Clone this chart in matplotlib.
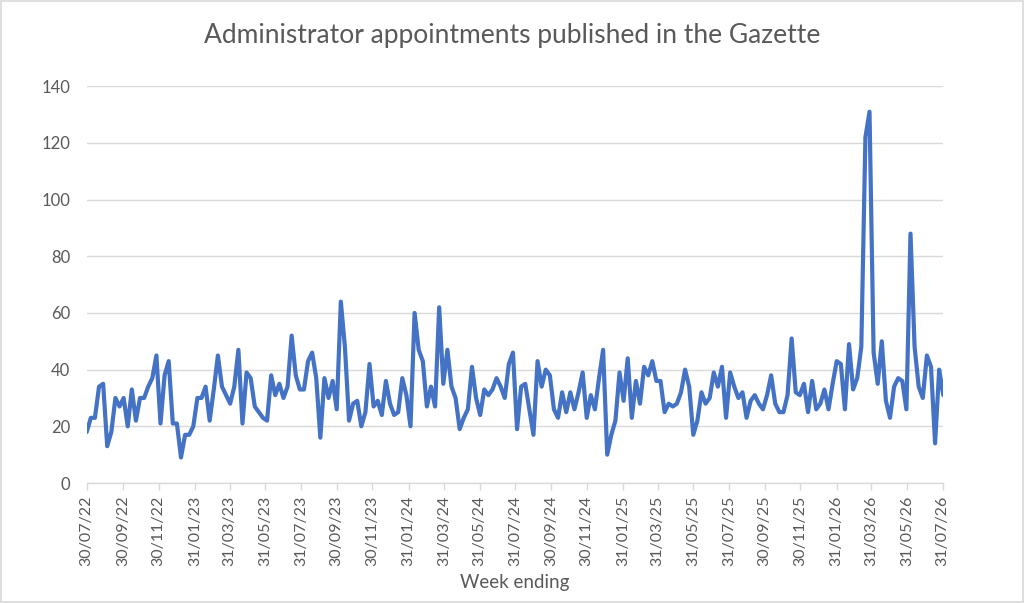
import matplotlib
matplotlib.use('Agg')
import matplotlib.pyplot as plt
import pandas as pd
from matplotlib.patches import Rectangle

# Weekly counts
counts_2022_23 = [
    18, 23, 23, 34, 35, 13, 18, 30, 27, 30,
    20, 33, 22, 30, 30, 34, 37, 45, 21, 38,
    43, 21, 21, 9, 17, 17, 20, 30, 30, 34,
    22, 33, 45, 34, 31, 28, 34, 47, 21, 39,
    37, 27, 25, 23, 22, 38, 31, 35, 30, 34,
]
counts_2023_24 = [
    52, 38, 33, 33, 43, 46, 37, 16, 37, 30,
    36, 26, 64, 48, 22, 28, 29, 20, 25, 42,
    27, 29, 24, 36, 28, 24, 25, 37, 31, 20,
    60, 47, 43, 27, 34, 27, 62, 35, 47, 34,
    30, 19, 23, 26, 41, 30, 24, 33, 31, 33,
    37,
]
counts_2024_25 = [
    34, 30, 42, 46, 19, 34, 35, 26, 17, 43,
    34, 40, 38, 26, 23, 32, 25, 32, 26, 32,
    39, 23, 31, 26, 37, 47, 10, 17, 22, 39,
    29, 44, 23, 36, 28, 41, 38, 43, 36, 36,
    25, 28, 27, 28, 32, 40, 34, 17, 22, 32,
    28,
]
counts_2025_26 = [
    30, 39, 34, 41, 23, 39, 34, 30, 32, 23,
    29, 31, 28, 26, 31, 38, 28, 25, 25, 31,
    51, 32, 31, 35, 25, 36, 26, 28, 33, 26,
    35, 43, 42, 26, 49, 33, 37, 48, 122, 131,
    46, 35, 50, 29, 23, 34, 37, 36, 26, 88,
    48, 34, 30, 45, 41, 14, 40, 31,
]
counts = counts_2022_23 + counts_2023_24 + counts_2024_25 + counts_2025_26

first_week = '2022-07-30'
week_ending = pd.date_range(first_week, periods=len(counts), freq='7D')

tick_labels = [
    '30/07/22', '30/09/22', '30/11/22', '31/01/23', '31/03/23', '31/05/23',
    '31/07/23', '30/09/23', '30/11/23', '31/01/24', '31/03/24', '31/05/24',
    '31/07/24', '30/09/24', '30/11/24', '31/01/25', '31/03/25', '31/05/25',
    '31/07/25', '30/09/25', '30/11/25', '31/01/26', '31/03/26', '31/05/26',
    '31/07/26',
]
tick_dates = pd.to_datetime(tick_labels, format='%d/%m/%y')

plt.rcParams['font.family'] = ['Lato', 'DejaVu Sans']
text_grey = '#595959'
line_grey = '#d9d9d9'

fig = plt.figure(figsize=(10.24, 6.03), dpi=100)
ax = fig.add_axes([0.0847, 0.199, 0.8359, 0.658])

ax.plot(week_ending, counts, color='#4472C4', linewidth=3.0,
        solid_joinstyle='round', solid_capstyle='round', zorder=3)

ax.set_ylim(0, 140)
ax.set_yticks(range(0, 141, 20))
ax.set_xlim(week_ending[0], tick_dates[-1])
ax.set_xticks(tick_dates)
ax.set_xticklabels(tick_labels, rotation=90)

ax.grid(axis='y', color=line_grey, linewidth=1)
ax.set_axisbelow(True)
for side in ['top', 'right', 'left']:
    ax.spines[side].set_visible(False)
ax.spines['bottom'].set_color(line_grey)
ax.spines['bottom'].set_linewidth(1)

ax.tick_params(axis='y', length=0, pad=12, labelsize=12, labelcolor=text_grey)
ax.tick_params(axis='x', length=5, width=1, color=line_grey, pad=4,
               labelsize=11.5, labelcolor=text_grey)

ax.set_xlabel('Week ending', fontsize=13.5, color=text_grey, labelpad=6)
fig.suptitle('Administrator appointments published in the Gazette',
             x=0.5, y=0.962, fontsize=19, color=text_grey)

fig.patches.append(Rectangle((0.001, 0.002), 0.998, 0.996, transform=fig.transFigure,
                             fill=False, edgecolor=line_grey, linewidth=1.2))

fig.savefig('out.png', dpi=100, facecolor='white')
